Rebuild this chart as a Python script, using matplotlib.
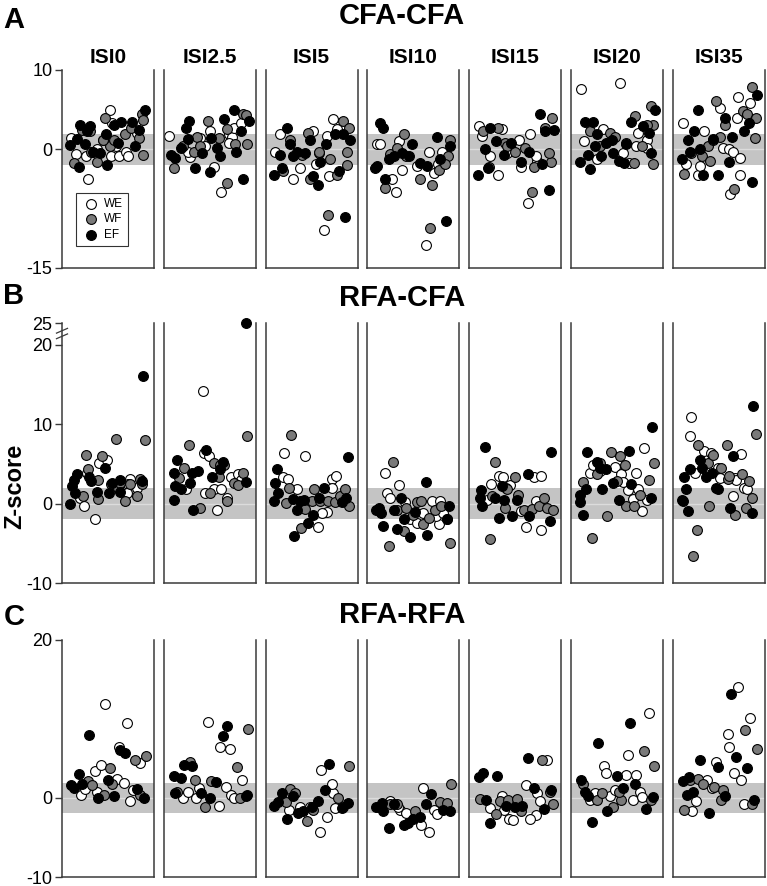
import numpy as np
import matplotlib.pyplot as plt

plt.rcParams['font.family'] = ['Liberation Sans', 'DejaVu Sans']

isi_labels = ['ISI0', 'ISI2.5', 'ISI5', 'ISI10', 'ISI15', 'ISI20', 'ISI35']
group_names = ['WE', 'WF', 'EF']
group_colors = ['white', '#7a7a7a', 'black']

# each point: (position across the panel 0-1, z-score); one list per ISI

# A: CFA-CFA
cfa_we = [
    [(0.085, 1.4), (0.14, -0.6), (0.25, -0.9), (0.27, -3.7), (0.52, 5.0), (0.54, 3.3), (0.44, 1.2), (0.53, -0.8),
     (0.62, -0.8), (0.70, -0.3), (0.73, -0.9), (0.80, 2.5), (0.83, 2.1), (0.59, 0.4), (0.37, 0.0)],
    [(0.04, 1.7), (0.28, -1.0), (0.55, -2.2), (0.63, -5.4), (0.72, 1.9), (0.75, 1.6), (0.72, 0.8), (0.77, 2.7),
     (0.39, 1.4), (0.50, 2.3), (0.85, 3.3), (0.25, -0.3), (0.45, 0.4)],
    [(0.09, -0.3), (0.14, 1.9), (0.29, -3.8), (0.37, -2.4), (0.52, 2.3), (0.55, -1.9), (0.67, 1.7), (0.70, -3.4),
     (0.74, 3.8), (0.79, 2.5), (0.64, -10.2), (0.58, -0.5)],
    [(0.09, 0.6), (0.12, 0.7), (0.26, -3.8), (0.30, -5.4), (0.34, 1.0), (0.37, -2.6), (0.64, -12.1), (0.68, -0.4),
     (0.73, -3.0), (0.82, -0.3), (0.78, -1.9), (0.54, -2.1)],
    [(0.09, 2.9), (0.12, 1.7), (0.30, -3.3), (0.22, -0.9), (0.35, 2.5), (0.54, 1.2), (0.67, 1.9), (0.56, -2.2),
     (0.75, -1.5), (0.65, -6.8), (0.73, -0.9), (0.41, -0.5)],
    [(0.09, 7.6), (0.53, 8.4), (0.13, 1.0), (0.27, -1.3), (0.34, 2.5), (0.63, -1.7), (0.71, 0.4), (0.74, 2.1),
     (0.84, 1.2), (0.84, 0.2), (0.57, -0.5)],
    [(0.09, 3.3), (0.13, -1.9), (0.26, -3.2), (0.29, -2.1), (0.33, 2.3), (0.51, 5.2), (0.55, 0.2), (0.62, 0.0),
     (0.66, -0.3), (0.63, -5.7), (0.71, 4.0), (0.72, 6.6), (0.74, -1.1), (0.85, 5.8), (0.74, -3.2)],
]
cfa_wf = [
    [(0.11, -1.7), (0.21, 2.4), (0.30, 2.3), (0.37, -1.6), (0.47, 4.0), (0.52, 0.4), (0.57, 1.2), (0.69, 1.9),
     (0.76, 2.7), (0.85, 1.4), (0.88, 4.4), (0.90, 3.7), (0.90, -0.7), (0.44, 1.2), (0.31, -0.3)],
    [(0.10, -2.4), (0.20, 0.4), (0.35, 1.6), (0.48, 3.5), (0.60, 1.4), (0.69, -4.3), (0.70, 2.6), (0.79, 0.6),
     (0.88, 4.4), (0.92, 0.6), (0.91, 4.3), (0.32, -0.3), (0.39, 0.4)],
    [(0.18, -2.8), (0.26, 1.2), (0.39, -0.7), (0.46, 2.1), (0.58, -0.3), (0.69, -8.3), (0.79, -3.2), (0.85, 3.6),
     (0.92, 2.7), (0.90, -0.3), (0.90, -2.0), (0.71, -1.3), (0.48, -3.8)],
    [(0.18, -4.9), (0.24, -0.6), (0.31, 0.1), (0.39, 1.9), (0.42, -0.9), (0.57, -3.7), (0.69, -9.9), (0.71, -4.5),
     (0.79, -2.6), (0.89, -0.9), (0.91, 1.2), (0.86, -1.9)],
    [(0.14, 2.3), (0.20, -2.2), (0.31, 2.7), (0.38, 0.8), (0.41, 0.4), (0.50, -0.3), (0.61, 0.2), (0.71, -2.2),
     (0.69, -5.4), (0.84, 2.7), (0.92, 4.0), (0.90, -1.6), (0.88, -0.5)],
    [(0.20, 2.3), (0.31, 0.4), (0.42, 2.1), (0.48, 1.6), (0.60, 0.8), (0.70, 4.2), (0.69, -1.7), (0.78, 0.4),
     (0.88, 5.5), (0.91, 3.0), (0.91, -1.9), (0.84, 3.0)],
    [(0.11, -3.1), (0.19, -0.5), (0.31, -0.8), (0.38, 0.4), (0.40, -1.5), (0.47, 6.1), (0.51, 1.6), (0.57, 3.0),
     (0.67, -5.0), (0.77, 4.8), (0.82, 4.4), (0.92, 4.0), (0.91, 1.4), (0.88, 7.8), (0.43, 1.2)],
]
cfa_ef = [
    [(0.07, 0.5), (0.18, 3.1), (0.17, -2.2), (0.15, 1.3), (0.24, 0.7), (0.26, 2.3), (0.33, -0.3), (0.41, -0.5),
     (0.49, -2.0), (0.48, 1.9), (0.57, 3.0), (0.65, 3.4), (0.61, 0.8), (0.77, 3.4), (0.80, 0.4), (0.85, 2.4),
     (0.92, 5.0), (0.30, 2.9)],
    [(0.06, -0.7), (0.11, -1.1), (0.17, 0.2), (0.23, 2.7), (0.27, 3.5), (0.25, 1.3), (0.33, -2.4), (0.41, -0.5),
     (0.50, -2.9), (0.51, 1.4), (0.58, 0.2), (0.62, -0.9), (0.66, 3.8), (0.77, 5.0), (0.80, -0.3), (0.85, 2.3),
     (0.88, -3.8), (0.94, 3.5)],
    [(0.08, -3.2), (0.14, -0.7), (0.22, 2.7), (0.16, -2.4), (0.26, 0.6), (0.29, -0.9), (0.43, -0.5), (0.48, 1.2),
     (0.52, -3.4), (0.57, -4.5), (0.66, 0.6), (0.60, -1.6), (0.77, 1.9), (0.81, -2.7), (0.86, 1.9), (0.93, 1.2),
     (0.88, -8.6), (0.33, -0.3)],
    [(0.07, -2.4), (0.12, 3.3), (0.16, 2.7), (0.18, -3.8), (0.22, -1.3), (0.28, -0.9), (0.37, -0.5), (0.45, -0.9),
     (0.48, 0.6), (0.58, -1.7), (0.65, -2.1), (0.77, 1.6), (0.80, -1.3), (0.87, -9.1), (0.91, 0.4), (0.09, -2.1)],
    [(0.22, 2.7), (0.16, 0.0), (0.08, -3.3), (0.28, 1.0), (0.19, -2.4), (0.37, -0.7), (0.45, 0.8), (0.57, -1.6),
     (0.66, -0.3), (0.78, 4.4), (0.80, -1.9), (0.88, -5.2), (0.94, 2.4), (0.84, 2.3)],
    [(0.08, -1.6), (0.14, 3.4), (0.23, 3.4), (0.17, -0.7), (0.20, -2.5), (0.25, 0.4), (0.32, -0.9), (0.38, 0.8),
     (0.44, 1.2), (0.46, -0.5), (0.52, -1.5), (0.58, -1.7), (0.60, 0.6), (0.66, 3.4), (0.79, 2.9), (0.86, 2.1),
     (0.88, -0.5), (0.93, 4.9), (0.27, 1.9)],
    [(0.08, -1.2), (0.15, 1.2), (0.17, -0.3), (0.22, 2.3), (0.27, 5.0), (0.32, -3.3), (0.44, 1.3), (0.49, -3.2),
     (0.57, 4.0), (0.61, -1.6), (0.65, 1.6), (0.78, 2.3), (0.84, 3.3), (0.87, -4.1), (0.93, 6.9), (0.29, 0.0)],
]

# B: RFA-CFA
rc_we = [
    [(0.18, 0.7), (0.23, -0.3), (0.35, -1.9), (0.40, 5.1), (0.49, 5.5), (0.75, 3.1), (0.73, 2.4), (0.71, 1.3),
     (0.83, 2.0), (0.26, 3.9)],
    [(0.23, 1.8), (0.42, 14.2), (0.43, 6.4), (0.49, 6.0), (0.45, 1.3), (0.55, 1.8), (0.63, 1.8), (0.58, -0.8),
     (0.74, 3.4), (0.82, 3.7), (0.70, 0.7), (0.85, 3.0)],
    [(0.19, 6.4), (0.42, 6.0), (0.18, 3.4), (0.23, 3.1), (0.34, 1.8), (0.57, -2.9), (0.67, -1.1), (0.62, -1.2),
     (0.73, 3.1), (0.78, 3.5), (0.73, 2.0)],
    [(0.18, 3.9), (0.34, 2.3), (0.20, 1.3), (0.23, 0.7), (0.41, 0.2), (0.46, -1.9), (0.54, -2.4), (0.71, 0.3),
     (0.80, 0.3), (0.79, -2.6), (0.76, -1.6), (0.84, -1.2), (0.61, -1.2)],
    [(0.23, 2.5), (0.32, 3.5), (0.18, 0.5), (0.36, 3.4), (0.44, 2.3), (0.56, -1.0), (0.62, -2.9), (0.71, 3.4),
     (0.79, 3.5), (0.79, -3.3), (0.73, 0.3)],
    [(0.20, 3.9), (0.23, 4.9), (0.31, 4.1), (0.48, 4.6), (0.54, 3.7), (0.62, 1.7), (0.72, 3.8), (0.80, 7.0),
     (0.68, 0.6), (0.78, -1.0), (0.84, 0.5), (0.57, 2.7), (0.74, 1.8)],
    [(0.19, 10.9), (0.18, 8.5), (0.23, 3.9), (0.33, 6.6), (0.41, 6.4), (0.49, 4.5), (0.51, 3.2), (0.66, 0.9),
     (0.68, 3.2), (0.75, 6.2), (0.78, 2.0), (0.82, 1.8), (0.70, 3.0)],
]
rc_wf = [
    [(0.22, 0.9), (0.25, 6.1), (0.27, 4.3), (0.39, 3.0), (0.39, 0.6), (0.43, 6.0), (0.53, 2.5), (0.59, 8.1),
     (0.61, 2.0), (0.69, 0.3), (0.75, 2.4), (0.83, 0.9), (0.86, 3.1), (0.92, 8.0), (0.88, 2.5), (0.64, 2.6)],
    [(0.15, 3.2), (0.21, 4.5), (0.26, 7.4), (0.39, -0.6), (0.50, 1.3), (0.55, 5.1), (0.60, 3.4), (0.66, 4.9),
     (0.70, 0.3), (0.77, 2.6), (0.82, 2.3), (0.92, 8.5), (0.88, 3.9), (0.62, 4.9)],
    [(0.27, 8.6), (0.25, 2.0), (0.21, 0.1), (0.38, -3.1), (0.43, -0.7), (0.50, 0.3), (0.53, 1.8), (0.60, 0.3),
     (0.69, 0.3), (0.76, 0.2), (0.82, 1.0), (0.88, 1.8), (0.92, -0.3)],
    [(0.27, 5.2), (0.22, -5.3), (0.31, -0.8), (0.39, -3.5), (0.42, -0.5), (0.50, -1.4), (0.54, 0.2), (0.59, 0.3),
     (0.61, -2.6), (0.68, -1.8), (0.74, -0.8), (0.81, -0.3), (0.88, -2.0), (0.91, -5.0)],
    [(0.27, 5.2), (0.22, -4.5), (0.24, 1.0), (0.40, 2.0), (0.38, -0.5), (0.41, 1.8), (0.50, 3.4), (0.53, 1.1),
     (0.60, -0.8), (0.69, -0.7), (0.77, -0.3), (0.82, 0.7), (0.86, -0.5), (0.93, -0.8)],
    [(0.12, 2.7), (0.22, -4.3), (0.27, 3.7), (0.31, 5.1), (0.43, 6.5), (0.53, 6.0), (0.59, 4.9), (0.39, -1.6),
     (0.60, -0.3), (0.69, -0.3), (0.76, 1.1), (0.86, 3.0), (0.92, 5.1), (0.50, 2.8)],
    [(0.21, -6.6), (0.25, -3.3), (0.27, 7.4), (0.38, 5.1), (0.43, 6.1), (0.39, -0.3), (0.53, 4.5), (0.59, 7.4),
     (0.60, 3.1), (0.68, -1.4), (0.76, 3.7), (0.81, -0.5), (0.84, 2.8), (0.87, 0.7), (0.92, 8.7), (0.62, 3.5)],
]
rc_ef = [
    [(0.07, 0.0), (0.09, 2.2), (0.12, 3.0), (0.15, 3.7), (0.29, 3.4), (0.31, 2.8), (0.37, 1.4), (0.47, 4.5),
     (0.51, 1.3), (0.55, 2.6), (0.64, 3.0), (0.64, 1.4), (0.88, 2.8), (0.90, 16.0), (0.13, 1.3)],
    [(0.09, 0.4), (0.09, 3.9), (0.13, 5.5), (0.11, 2.2), (0.17, 1.8), (0.30, 3.9), (0.28, 2.6), (0.37, 4.1),
     (0.31, -0.8), (0.46, 6.8), (0.52, 3.4), (0.65, 5.2), (0.62, 4.4), (0.91, 2.7), (0.91, 25.0)],
    [(0.11, 4.3), (0.09, 2.6), (0.07, 0.3), (0.12, 1.3), (0.29, 0.6), (0.33, -0.8), (0.37, 0.3), (0.46, -2.4),
     (0.52, -1.4), (0.30, -4.1), (0.58, 0.7), (0.64, 2.0), (0.84, 0.2), (0.89, 0.7), (0.91, 5.8), (0.41, 0.5)],
    [(0.08, -0.8), (0.11, -0.5), (0.13, -1.2), (0.16, -2.8), (0.28, -0.8), (0.31, -3.2), (0.36, 0.7), (0.46, -4.2),
     (0.52, -1.1), (0.64, 2.7), (0.65, -4.0), (0.88, -1.9), (0.90, -0.3), (0.39, -2.0)],
    [(0.16, 7.1), (0.11, 1.7), (0.10, 0.7), (0.13, -0.3), (0.32, -1.8), (0.35, 2.2), (0.27, 0.7), (0.46, -1.6),
     (0.52, 0.5), (0.64, 3.7), (0.66, -1.6), (0.89, -2.2), (0.91, 6.5), (0.37, 0.5)],
    [(0.08, 1.1), (0.08, 0.2), (0.11, -1.4), (0.15, 1.8), (0.16, 6.5), (0.27, 5.2), (0.31, 4.5), (0.37, 4.3),
     (0.33, 1.8), (0.46, 2.6), (0.52, 0.5), (0.64, 6.6), (0.66, 2.4), (0.88, 0.7), (0.90, 9.6)],
    [(0.08, 0.5), (0.09, 0.3), (0.11, 3.4), (0.13, 1.8), (0.15, -1.0), (0.18, 4.4), (0.29, 5.5), (0.31, 4.5),
     (0.36, 3.4), (0.47, 2.0), (0.49, 1.8), (0.63, -0.5), (0.66, 6.0), (0.88, -1.2), (0.89, 12.3), (0.42, 3.9)],
]

# C: RFA-RFA
rr_we = [
    [(0.19, 0.4), (0.24, 1.1), (0.35, 3.4), (0.42, 4.2), (0.37, 0.8), (0.47, 11.9), (0.60, 2.4), (0.68, 1.9),
     (0.62, 6.5), (0.72, 9.5), (0.75, -0.4), (0.78, 1.0), (0.86, 4.4)],
    [(0.20, 0.0), (0.25, 0.7), (0.34, 0.0), (0.38, 1.3), (0.48, 9.6), (0.60, -1.0), (0.62, 6.5), (0.73, 6.2),
     (0.68, 1.4), (0.74, 0.4), (0.86, 2.3), (0.77, 0.0)],
    [(0.25, -1.5), (0.37, -1.1), (0.61, 3.5), (0.67, -2.4), (0.60, -4.3), (0.74, 0.6), (0.77, -1.3), (0.73, 1.8),
     (0.48, -1.1)],
    [(0.24, -0.4), (0.35, -1.5), (0.42, -1.9), (0.61, 1.3), (0.59, -3.4), (0.68, -4.3), (0.73, -1.5), (0.77, -2.0),
     (0.33, -1.1)],
    [(0.22, -1.3), (0.35, 0.2), (0.43, -2.7), (0.37, -1.5), (0.47, -2.8), (0.62, 1.7), (0.75, 0.6), (0.78, -0.4),
     (0.73, -2.1), (0.67, -2.7), (0.86, 4.8)],
    [(0.35, 4.0), (0.38, 3.2), (0.42, 0.3), (0.48, 1.0), (0.60, 2.9), (0.62, 5.5), (0.68, -0.2), (0.72, 2.9),
     (0.76, 0.8), (0.78, 0.1), (0.86, 10.7), (0.20, -0.3), (0.25, 0.6)],
    [(0.20, -1.6), (0.24, -0.4), (0.37, 2.3), (0.47, 4.6), (0.42, 1.3), (0.60, 8.1), (0.62, 6.5), (0.67, 3.2),
     (0.72, 14.0), (0.75, 2.3), (0.78, -0.8), (0.85, 10.1)],
]
rr_wf = [
    [(0.27, 2.1), (0.32, 1.6), (0.46, 0.4), (0.52, 3.8), (0.55, 1.8), (0.81, 4.8), (0.93, 5.3), (0.86, 0.4)],
    [(0.13, 0.7), (0.28, 4.5), (0.33, 2.3), (0.45, -1.1), (0.51, 2.2), (0.81, 3.9), (0.93, 8.7), (0.84, 0.0)],
    [(0.26, 1.1), (0.21, -0.5), (0.45, -2.9), (0.52, -1.5), (0.80, 0.0), (0.92, 4.1), (0.86, -1.1), (0.31, 0.6)],
    [(0.11, -1.1), (0.31, -0.7), (0.52, -1.7), (0.80, -0.5), (0.88, -0.6), (0.92, 1.8), (0.23, -0.7)],
    [(0.10, -0.1), (0.28, -2.0), (0.33, -0.4), (0.42, -0.2), (0.52, -0.1), (0.56, -1.7), (0.80, 4.8), (0.89, 0.8),
     (0.93, -0.7)],
    [(0.12, 1.8), (0.27, -0.2), (0.33, 0.6), (0.45, -1.1), (0.54, -0.3), (0.52, 0.7), (0.80, 6.0), (0.88, -0.3),
     (0.92, 4.1)],
    [(0.11, -1.5), (0.17, 2.3), (0.27, 2.4), (0.32, 1.8), (0.45, 1.4), (0.52, -0.2), (0.55, 1.0), (0.80, 8.6),
     (0.87, -0.8), (0.93, 6.2)],
]
rr_ef = [
    [(0.08, 1.6), (0.12, 1.3), (0.17, 3.0), (0.21, 1.8), (0.29, 8.0), (0.39, 0.0), (0.50, 2.3), (0.57, 0.3),
     (0.64, 6.1), (0.69, 5.7), (0.83, 1.1), (0.91, 0.0)],
    [(0.09, 2.8), (0.17, 2.5), (0.11, 0.6), (0.21, 4.2), (0.30, 4.1), (0.40, 0.6), (0.50, 0.0), (0.57, 2.0),
     (0.65, 7.9), (0.70, 9.1), (0.91, 0.2), (0.92, 0.4)],
    [(0.08, -1.0), (0.12, -0.5), (0.16, 0.6), (0.22, -2.7), (0.29, 0.3), (0.40, -1.6), (0.50, -1.1), (0.57, -0.4),
     (0.65, 1.0), (0.70, 4.3), (0.84, -1.3), (0.91, -0.6), (0.35, -1.9)],
    [(0.08, -1.1), (0.14, -0.6), (0.16, -1.7), (0.22, -3.8), (0.28, -0.7), (0.39, -3.4), (0.44, -3.2), (0.50, -2.7),
     (0.58, -2.4), (0.64, -0.8), (0.70, 0.5), (0.83, -1.5), (0.91, -1.6)],
    [(0.09, 2.7), (0.14, 3.2), (0.29, 2.8), (0.17, -0.3), (0.22, -3.2), (0.40, -1.0), (0.50, -1.1), (0.58, -1.0),
     (0.65, 5.1), (0.71, 1.3), (0.83, -1.4), (0.91, 1.0)],
    [(0.09, 2.3), (0.14, 0.8), (0.17, 0.3), (0.22, -3.0), (0.29, 6.9), (0.39, -1.7), (0.50, 2.8), (0.57, 1.3),
     (0.65, 9.5), (0.70, 1.8), (0.83, -1.4), (0.91, 0.1)],
    [(0.09, 2.2), (0.16, 2.7), (0.14, 0.4), (0.21, 0.8), (0.29, 4.8), (0.39, -1.9), (0.49, 3.9), (0.57, 0.2),
     (0.64, 13.2), (0.69, 5.2), (0.82, 3.8), (0.90, -0.3)],
]

W, H = 767, 886
fig = plt.figure(figsize=(W / 100, H / 100), dpi=100)


def px_rect(left, top, width, height):
    return [left / W, 1 - (top + height) / H, width / W, height / H]


def squash(y):
    # axis B is broken above 20: 20..25 drawn in a short segment
    y = np.asarray(y, dtype=float)
    return np.where(y > 20, 20 + (y - 20) * 0.545, y)


rows = [
    dict(letter='A', title='CFA-CFA', data=(cfa_we, cfa_wf, cfa_ef), top=70, bottom=268,
         ylim=(-15, 10), ticks=[10, 0, -15], labels=['10', '0', '-15'], title_y=16, letter_y=20),
    dict(letter='B', title='RFA-CFA', data=(rc_we, rc_wf, rc_ef), top=323, bottom=583,
         ylim=(-10, float(squash(25))), ticks=[float(squash(25)), 20, 10, 0, -10],
         labels=['25', '20', '10', '0', '-10'], title_y=298, letter_y=296),
    dict(letter='C', title='RFA-RFA', data=(rr_we, rr_wf, rr_ef), top=640, bottom=877,
         ylim=(-10, 20), ticks=[20, 0, -10], labels=['20', '0', '-10'], title_y=615, letter_y=617),
]

spine_c = '#3a3a3a'
for r, row in enumerate(rows):
    for i in range(7):
        left = 62 + 101.8 * i
        ax = fig.add_axes(px_rect(left, row['top'], 92, row['bottom'] - row['top']))
        ax.set_xlim(-0.02, 1.02)
        ax.set_ylim(*row['ylim'])
        ax.axhspan(-1.96, 1.96, color='#c4c4c4', lw=0, zorder=0)
        ax.axhline(0, color='#dcdcdc', lw=1.0, zorder=0.5)
        for g in range(3):
            pts = np.array(row['data'][g][i])
            ax.scatter(pts[:, 0], squash(pts[:, 1]), s=50, c=group_colors[g], edgecolors='black',
                       linewidths=0.8, zorder=2 + g * 0.1, label=group_names[g], clip_on=False)
        ax.spines['top'].set_visible(False)
        for s in ['left', 'right', 'bottom']:
            ax.spines[s].set_color(spine_c)
            ax.spines[s].set_linewidth(1.1)
        ax.set_xticks([])
        if i == 0:
            ax.set_yticks(row['ticks'])
            ax.set_yticklabels(row['labels'])
            ax.tick_params(axis='y', length=5, width=1.0, color=spine_c, labelsize=13, pad=2)
        else:
            ax.set_yticks([])
        if r == 0:
            ax.set_title(isi_labels[i], fontsize=15, fontweight='bold', pad=5)
        if r == 0 and i == 0:
            leg = ax.legend(loc='lower left', bbox_to_anchor=(0.15, 0.11), fontsize=8.5, frameon=True,
                            fancybox=False, edgecolor='black', handletextpad=0.3, borderpad=0.45,
                            labelspacing=0.3, borderaxespad=0, scatterpoints=1, handlelength=1.6)
            leg.get_frame().set_linewidth(0.8)
        if r == 1 and i == 0:
            # break mark on the axis
            for dy in (-0.35, 0.35):
                ax.plot([-0.06, 0.06], [21.1 + dy, 21.7 + dy], color=spine_c, lw=0.9,
                        clip_on=False, transform=ax.get_yaxis_transform(), zorder=5)
    fig.text(402 / W, 1 - row['title_y'] / H, row['title'], fontsize=21, fontweight='bold',
             ha='center', va='center')
    fig.text(14 / W, 1 - row['letter_y'] / H, row['letter'], fontsize=21, fontweight='bold',
             ha='center', va='center')

fig.text(15 / W, 1 - 486 / H, 'Z-score', fontsize=17, fontweight='bold', rotation=90,
         ha='center', va='center')

fig.savefig('out.png', dpi=100)
